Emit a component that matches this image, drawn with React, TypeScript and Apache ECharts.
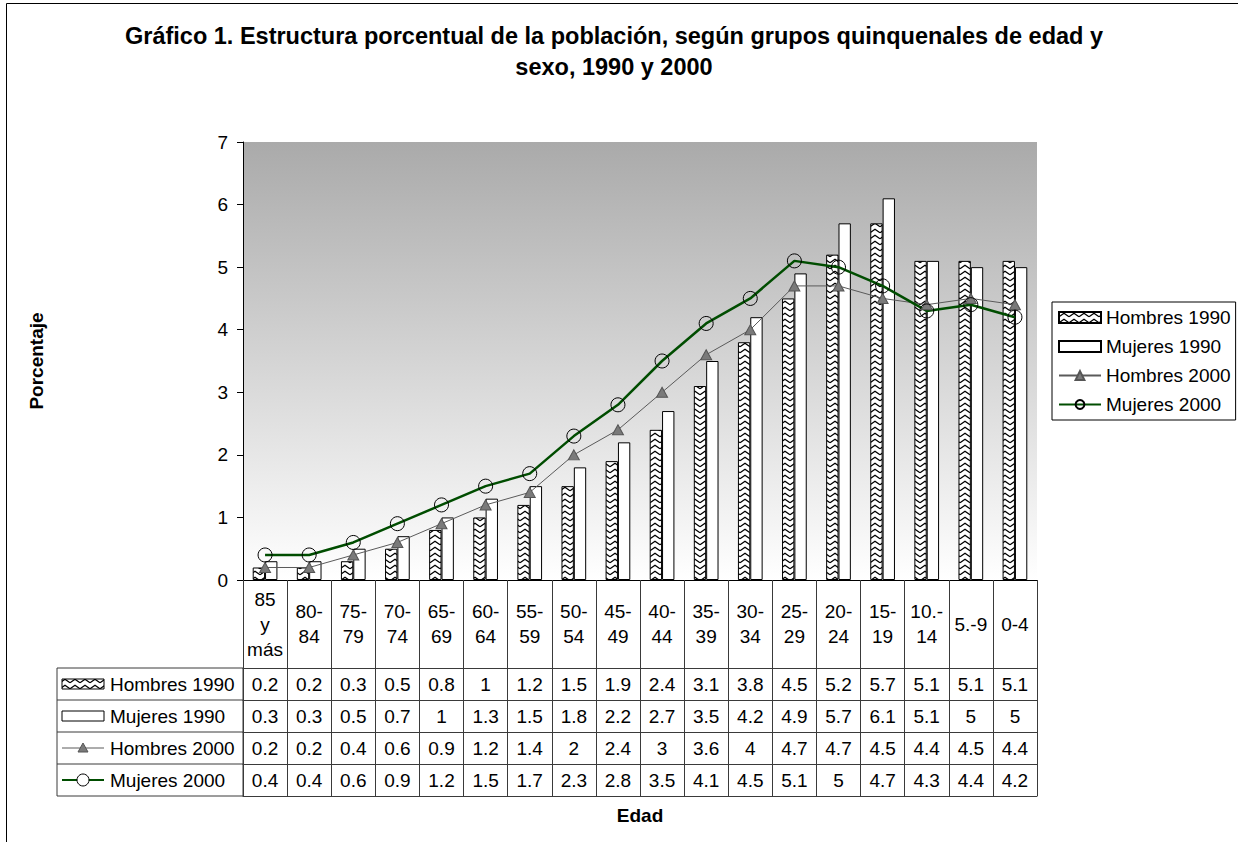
import React, { useEffect, useRef } from 'react';
import * as echarts from 'echarts';

// ---------- data ----------
const categories = [
  '85\ny\nmás', '80-\n84', '75-\n79', '70-\n74', '65-\n69', '60-\n64', '55-\n59', '50-\n54', '45-\n49',
  '40-\n44', '35-\n39', '30-\n34', '25-\n29', '20-\n24', '15-\n19', '10.-\n14', '5.-9', '0-4',
];
const hombres1990 = [0.2, 0.2, 0.3, 0.5, 0.8, 1, 1.2, 1.5, 1.9, 2.4, 3.1, 3.8, 4.5, 5.2, 5.7, 5.1, 5.1, 5.1];
const mujeres1990 = [0.3, 0.3, 0.5, 0.7, 1, 1.3, 1.5, 1.8, 2.2, 2.7, 3.5, 4.2, 4.9, 5.7, 6.1, 5.1, 5, 5];
const hombres2000 = [0.2, 0.2, 0.4, 0.6, 0.9, 1.2, 1.4, 2, 2.4, 3, 3.6, 4, 4.7, 4.7, 4.5, 4.4, 4.5, 4.4];
const mujeres2000 = [0.4, 0.4, 0.6, 0.9, 1.2, 1.5, 1.7, 2.3, 2.8, 3.5, 4.1, 4.5, 5.1, 5, 4.7, 4.3, 4.4, 4.2];
const seriesNames = ['Hombres 1990', 'Mujeres 1990', 'Hombres 2000', 'Mujeres 2000'];
const yMin = 0;
const yMax = 7;
const yInterval = 1;
const titleText =
  'Gráfico 1. Estructura porcentual de la población, según grupos quinquenales de edad y\nsexo, 1990 y 2000';
const yTitle = 'Porcentaje';
const xTitle = 'Edad';

// ---------- layout ----------
const W = 1238;
const H = 842;
const GRID_LEFT = 243;
const GRID_TOP = 142;
const GRID_W = 794;
const GRID_H = 438;
const HEADER_H = 88;
const ROW_H = 32;
const FONT = '"Liberation Sans", Arial, sans-serif';
const FS = 19;
const TABLE_LINE = '#3a3a3a';
const GREEN = '#004d00';
const GRAY_LINE = '#5a5a5a';
const GRAY_MARK = '#7a7a7a';

function makePattern() {
  const c = document.createElement('canvas');
  c.width = 10;
  c.height = 6;
  const ctx = c.getContext('2d')!;
  ctx.fillStyle = '#ffffff';
  ctx.fillRect(0, 0, 10, 6);
  ctx.strokeStyle = '#000000';
  ctx.lineWidth = 1.3;
  ctx.beginPath();
  ctx.moveTo(0, 4.8);
  ctx.lineTo(5, 1.2);
  ctx.lineTo(10, 4.8);
  ctx.stroke();
  return { image: c, repeat: 'repeat', imageWidth: 10, imageHeight: 6 } as any;
}

export default function App() {
  const ref = useRef<HTMLDivElement>(null);

  useEffect(() => {
    if (!ref.current) return;
    const chart = echarts.init(ref.current, undefined, { renderer: 'svg' });
    const pattern = makePattern();
    const tableRows = [hombres1990, mujeres1990, hombres2000, mujeres2000];
    const tableTop = GRID_TOP + GRID_H + HEADER_H;
    const tableBottom = tableTop + ROW_H * tableRows.length;
    const keyX0 = 62;
    const keyX1 = 104;
    const keyMid = (keyX0 + keyX1) / 2;
    const leftColX = 57;

    const baseLabel = { fontFamily: FONT, fontSize: FS, color: '#000' };

    const xAxes: any[] = [
      {
        type: 'category',
        data: categories,
        position: 'bottom',
        axisLine: { show: true, onZero: false, lineStyle: { color: '#000', width: 1 } },
        axisTick: { show: true, interval: 0, length: HEADER_H, lineStyle: { color: TABLE_LINE } },
        axisLabel: {
          ...baseLabel,
          interval: 0,
          margin: HEADER_H / 2,
          verticalAlign: 'middle',
          lineHeight: 25,
          align: 'center',
        },
        splitLine: { show: false },
      },
      ...tableRows.map((vals, i) => ({
        type: 'category',
        data: categories,
        position: 'bottom',
        offset: HEADER_H + i * ROW_H,
        axisLine: { show: true, onZero: false, lineStyle: { color: TABLE_LINE, width: 1 } },
        axisTick: { show: true, interval: 0, length: ROW_H, lineStyle: { color: TABLE_LINE } },
        axisLabel: {
          ...baseLabel,
          interval: 0,
          margin: ROW_H / 2,
          verticalAlign: 'middle',
          formatter: (_v: string, idx: number) => String(vals[idx]),
        },
        splitLine: { show: false },
      })),
      {
        type: 'category',
        data: categories,
        position: 'bottom',
        offset: HEADER_H + tableRows.length * ROW_H,
        axisLine: { show: true, onZero: false, lineStyle: { color: TABLE_LINE, width: 1 } },
        axisTick: { show: false },
        axisLabel: { show: false },
        splitLine: { show: false },
      },
    ];

    const rowGraphics: any[] = [];
    rowGraphics.push({
      type: 'rect',
      silent: true,
      shape: { x: leftColX, y: tableTop, width: GRID_LEFT - leftColX, height: tableBottom - tableTop },
      style: { fill: 'none', stroke: TABLE_LINE, lineWidth: 1 },
    });
    for (let i = 1; i < tableRows.length; i++) {
      rowGraphics.push({
        type: 'line',
        silent: true,
        shape: { x1: leftColX, y1: tableTop + i * ROW_H, x2: GRID_LEFT, y2: tableTop + i * ROW_H },
        style: { stroke: TABLE_LINE, lineWidth: 1 },
      });
    }
    seriesNames.forEach((name, i) => {
      const cy = tableTop + i * ROW_H + ROW_H / 2;
      if (i === 0) {
        rowGraphics.push({
          type: 'rect',
          silent: true,
          shape: { x: keyX0, y: cy - 5, width: keyX1 - keyX0, height: 10 },
          style: { fill: pattern, stroke: '#000', lineWidth: 1 },
        });
      } else if (i === 1) {
        rowGraphics.push({
          type: 'rect',
          silent: true,
          shape: { x: keyX0, y: cy - 5, width: keyX1 - keyX0, height: 10 },
          style: { fill: '#fff', stroke: '#000', lineWidth: 1 },
        });
      } else if (i === 2) {
        rowGraphics.push({
          type: 'line',
          silent: true,
          shape: { x1: keyX0, y1: cy, x2: keyX1, y2: cy },
          style: { stroke: GRAY_LINE, lineWidth: 1 },
        });
        rowGraphics.push({
          type: 'polygon',
          silent: true,
          shape: { points: [[keyMid - 5, cy + 4], [keyMid + 5, cy + 4], [keyMid, cy - 5]] },
          style: { fill: GRAY_MARK, stroke: '#555', lineWidth: 1 },
        });
      } else {
        rowGraphics.push({
          type: 'line',
          silent: true,
          shape: { x1: keyX0, y1: cy, x2: keyX1, y2: cy },
          style: { stroke: GREEN, lineWidth: 2 },
        });
        rowGraphics.push({
          type: 'circle',
          silent: true,
          shape: { cx: keyMid, cy, r: 6 },
          style: { fill: '#fff', stroke: '#000', lineWidth: 1 },
        });
      }
      rowGraphics.push({
        type: 'text',
        silent: true,
        x: keyX1 + 6,
        y: cy,
        style: { text: name, font: `${FS}px ${FONT}`, fill: '#000', align: 'left', verticalAlign: 'middle' },
      });
    });

    const option: any = {
      animation: false,
      backgroundColor: '#fff',
      textStyle: { fontFamily: FONT },
      grid: {
        left: GRID_LEFT,
        top: GRID_TOP,
        width: GRID_W,
        height: GRID_H,
        show: true,
        borderWidth: 0,
        backgroundColor: new echarts.graphic.LinearGradient(0, 0, 0, 1, [
          { offset: 0, color: '#aaaaaa' },
          { offset: 1, color: '#ffffff' },
        ]),
      },
      legend: {
        orient: 'vertical',
        left: 1052,
        top: 302,
        padding: [6, 5, 6, 6],
        itemGap: 10,
        itemWidth: 42,
        itemHeight: 11,
        borderColor: '#000',
        borderWidth: 1,
        backgroundColor: '#fff',
        textStyle: { fontFamily: FONT, fontSize: FS, color: '#000' },
        data: [
          { name: seriesNames[0], icon: 'rect' },
          { name: seriesNames[1], icon: 'rect' },
          { name: seriesNames[2] },
          { name: seriesNames[3] },
        ],
      },
      xAxis: xAxes,
      yAxis: {
        type: 'value',
        min: yMin,
        max: yMax,
        interval: yInterval,
        axisLine: { show: true, lineStyle: { color: '#000', width: 1 } },
        axisTick: { show: true, length: 6, lineStyle: { color: '#000' } },
        axisLabel: { ...baseLabel, margin: 15 },
        splitLine: { show: false },
      },
      series: [
        {
          name: seriesNames[0],
          type: 'bar',
          xAxisIndex: 0,
          data: hombres1990,
          barGap: '0%',
          barCategoryGap: '44%',
          itemStyle: { color: pattern, borderColor: '#000', borderWidth: 1 },
        },
        {
          name: seriesNames[1],
          type: 'bar',
          xAxisIndex: 0,
          data: mujeres1990,
          barGap: '0%',
          barCategoryGap: '44%',
          itemStyle: { color: '#ffffff', borderColor: '#000', borderWidth: 1 },
        },
        {
          name: seriesNames[2],
          type: 'line',
          xAxisIndex: 0,
          data: hombres2000,
          symbol: 'triangle',
          symbolSize: [11, 10],
          lineStyle: { color: GRAY_LINE, width: 1 },
          itemStyle: { color: GRAY_MARK, borderColor: '#555', borderWidth: 1 },
        },
        {
          name: seriesNames[3],
          type: 'line',
          xAxisIndex: 0,
          data: mujeres2000,
          symbol: 'circle',
          symbolSize: 14,
          lineStyle: { color: GREEN, width: 2.5 },
          itemStyle: { color: 'rgba(255,255,255,0)', borderColor: '#000', borderWidth: 1 },
        },
      ],
      graphic: [
        {
          type: 'rect',
          silent: true,
          z: -1,
          shape: { x: 6.5, y: 3.5, width: W + 50, height: H + 50 },
          style: { fill: 'none', stroke: '#000', lineWidth: 1 },
        },
        {
          type: 'text',
          silent: true,
          x: 614,
          y: 20,
          style: {
            text: titleText,
            font: `bold 23.5px ${FONT}`,
            fill: '#000',
            align: 'center',
            verticalAlign: 'top',
            lineHeight: 31,
          },
        },
        {
          type: 'text',
          silent: true,
          x: 36,
          y: GRID_TOP + GRID_H / 2,
          rotation: Math.PI / 2,
          style: {
            text: yTitle,
            font: `bold ${FS}px ${FONT}`,
            fill: '#000',
            align: 'center',
            verticalAlign: 'middle',
          },
        },
        {
          type: 'text',
          silent: true,
          x: GRID_LEFT + GRID_W / 2,
          y: 815,
          style: {
            text: xTitle,
            font: `bold ${FS}px ${FONT}`,
            fill: '#000',
            align: 'center',
            verticalAlign: 'middle',
          },
        },
        ...rowGraphics,
      ],
    };

    chart.setOption(option);
    return () => chart.dispose();
  }, []);

  return (
    <div
      ref={ref}
      style={{ position: 'fixed', left: 0, top: 0, width: W + 'px', height: H + 'px', background: '#fff' }}
    />
  );
}
